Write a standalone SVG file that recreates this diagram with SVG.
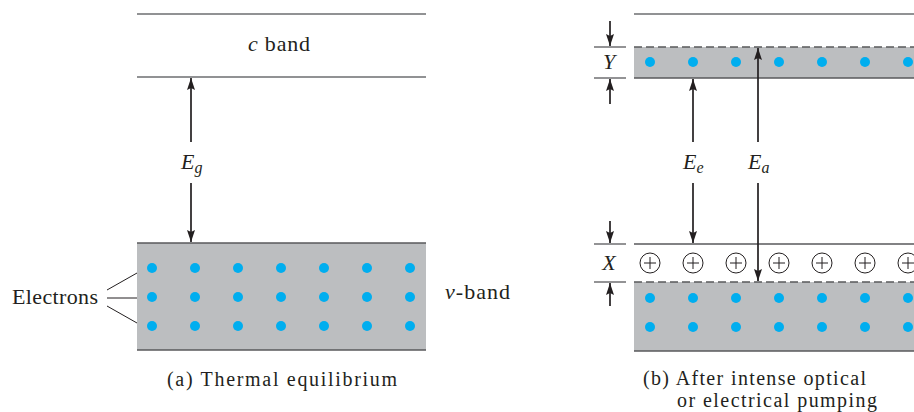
<svg xmlns="http://www.w3.org/2000/svg" width="914" height="412" viewBox="0 0 914 412">
<style>
.ln{stroke:#6d6e71;stroke-width:1.5;fill:none}
.bd{stroke:#58595b;stroke-width:1.5;fill:none}
.dash{stroke:#58595b;stroke-width:1.5;stroke-dasharray:8 4;fill:none}
.band{fill:#bcbec0}
.dot{fill:#00aeef}
.arr{stroke:#231f20;stroke-width:1.7;fill:none;marker-end:url(#ah)}
.tk{stroke:#58595b;stroke-width:1.3;fill:none}
.lead{stroke:#231f20;stroke-width:1;fill:none}
.cp{fill:#fff;stroke:#231f20;stroke-width:1}
text{font-family:"Liberation Serif","Times New Roman",serif;fill:#231f20;font-size:22px}
.it{font-style:italic}
.cap{font-size:20px}
</style>
<defs>
<marker id="ah" markerUnits="userSpaceOnUse" markerWidth="14" markerHeight="10" refX="12" refY="4" orient="auto">
<path d="M0,0 L12,4 L0,8 L2,4 z" fill="#231f20"/>
</marker>
<circle id="d" r="5" class="dot"/>
<g id="cplus"><circle r="10" class="cp"/><path d="M-6,0 H6 M0,-6 V6" stroke="#231f20" stroke-width="1"/></g>
</defs>

<g id="panel-a">
<g id="c-band-a">
<line class="ln" x1="137" y1="14" x2="426" y2="14"/>
<line class="ln" x1="137" y1="77" x2="426" y2="77"/>
<text x="248" y="51" textLength="62"><tspan class="it">c</tspan> band</text>
</g>
<g id="v-band-a">
<rect class="band" x="137" y="243" width="289" height="107"/>
<line class="bd" x1="137" y1="243" x2="426" y2="243"/>
<line class="bd" x1="137" y1="350" x2="426" y2="350"/>
<g id="dots-a">
<use href="#d" x="152" y="268"/><use href="#d" x="195" y="268"/><use href="#d" x="238" y="268"/><use href="#d" x="281" y="268"/><use href="#d" x="324" y="268"/><use href="#d" x="367" y="268"/><use href="#d" x="410" y="268"/>
<use href="#d" x="152" y="297"/><use href="#d" x="195" y="297"/><use href="#d" x="238" y="297"/><use href="#d" x="281" y="297"/><use href="#d" x="324" y="297"/><use href="#d" x="367" y="297"/><use href="#d" x="410" y="297"/>
<use href="#d" x="152" y="326"/><use href="#d" x="195" y="326"/><use href="#d" x="238" y="326"/><use href="#d" x="281" y="326"/><use href="#d" x="324" y="326"/><use href="#d" x="367" y="326"/><use href="#d" x="410" y="326"/>
</g>
<text x="445" y="299" textLength="65"><tspan class="it">v</tspan>-band</text>
</g>
<g id="electrons-label">
<text x="12" y="304" textLength="86">Electrons</text>
</g>
<g id="eg-label">
<text x="181" y="169" class="it">E<tspan font-size="16" dy="4">g</tspan></text>
</g>
<text class="cap" x="167" y="386" textLength="230">(a) Thermal equilibrium</text>
</g>

<g id="panel-b">
<g id="c-band-b">
<line class="ln" x1="634" y1="14" x2="914" y2="14"/>
<rect class="band" x="634" y="47" width="280" height="31"/>
<line class="dash" x1="634" y1="47" x2="914" y2="47"/>
<line class="bd" x1="634" y1="78" x2="914" y2="78"/>
<use href="#d" x="650" y="62"/><use href="#d" x="693" y="62"/><use href="#d" x="736" y="62"/><use href="#d" x="779" y="62"/><use href="#d" x="822" y="62"/><use href="#d" x="865" y="62"/><use href="#d" x="908" y="62"/>
</g>
<g id="y-label">
<line class="tk" x1="594" y1="47" x2="626" y2="47"/>
<line class="tk" x1="594" y1="78" x2="626" y2="78"/>
<text x="609" y="69" class="it" text-anchor="middle">Y</text>
</g>
<g id="holes-b">
<line class="bd" x1="634" y1="244" x2="914" y2="244"/>
<use href="#cplus" x="650" y="263"/><use href="#cplus" x="693" y="263"/><use href="#cplus" x="736" y="263"/><use href="#cplus" x="779" y="263"/><use href="#cplus" x="822" y="263"/><use href="#cplus" x="865" y="263"/><use href="#cplus" x="908" y="263"/>
</g>
<g id="v-band-b">
<rect class="band" x="634" y="282" width="280" height="69"/>
<line class="dash" x1="634" y1="282" x2="914" y2="282"/>
<line class="bd" x1="634" y1="351" x2="914" y2="351"/>
<use href="#d" x="650" y="298"/><use href="#d" x="693" y="298"/><use href="#d" x="736" y="298"/><use href="#d" x="779" y="298"/><use href="#d" x="822" y="298"/><use href="#d" x="865" y="298"/><use href="#d" x="908" y="298"/>
<use href="#d" x="650" y="327"/><use href="#d" x="693" y="327"/><use href="#d" x="736" y="327"/><use href="#d" x="779" y="327"/><use href="#d" x="822" y="327"/><use href="#d" x="865" y="327"/><use href="#d" x="908" y="327"/>
</g>
<g id="x-label">
<line class="tk" x1="594" y1="244" x2="626" y2="244"/>
<line class="tk" x1="594" y1="282" x2="626" y2="282"/>
<text x="609" y="270" class="it" text-anchor="middle">X</text>
</g>
<g id="ee-label"><text x="683" y="169" class="it">E<tspan font-size="16" dy="4">e</tspan></text></g>
<g id="ea-label"><text x="748" y="169" class="it">E<tspan font-size="16" dy="4">a</tspan></text></g>
<text class="cap" x="643" y="385" textLength="223">(b) After intense optical</text>
<text class="cap" x="677" y="407" textLength="200">or electrical pumping</text>
</g>

<g id="connectors">
<line class="lead" x1="107" y1="290" x2="137" y2="273"/>
<line class="lead" x1="107" y1="298" x2="137" y2="298"/>
<line class="lead" x1="107" y1="306" x2="137" y2="323"/>
<line class="arr" x1="191" y1="142" x2="191" y2="78"/>
<line class="arr" x1="191" y1="183" x2="191" y2="242"/>
<line class="arr" x1="610" y1="21" x2="610" y2="46"/>
<line class="arr" x1="610" y1="104" x2="610" y2="79"/>
<line class="arr" x1="610" y1="221" x2="610" y2="243"/>
<line class="arr" x1="610" y1="306" x2="610" y2="283"/>
<line class="arr" x1="693" y1="142" x2="693" y2="79"/>
<line class="arr" x1="693" y1="183" x2="693" y2="243"/>
<line class="arr" x1="758" y1="142" x2="758" y2="48"/>
<line class="arr" x1="758" y1="183" x2="758" y2="281"/>
</g>
</svg>
